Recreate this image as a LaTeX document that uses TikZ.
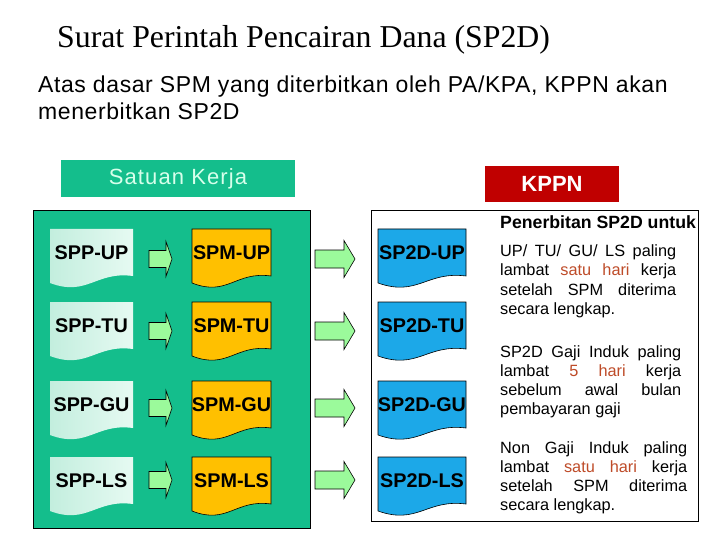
\documentclass[tikz,border=0pt]{standalone}
\usepackage{fontspec}
\setmainfont{Liberation Sans}
\newfontfamily\titlefont{Liberation Serif}
\definecolor{teal1}{RGB}{20,190,140}
\definecolor{satktext}{RGB}{215,255,235}
\definecolor{kppnred}{RGB}{192,0,0}
\definecolor{spmorange}{RGB}{255,192,0}
\definecolor{sp2dblue}{RGB}{28,168,232}
\definecolor{arrowgreen}{RGB}{155,250,155}
\definecolor{harired}{RGB}{190,75,40}
\definecolor{mintA}{RGB}{195,238,222}
\definecolor{mintB}{RGB}{230,250,242}
\newcommand\docnode[6]{%
  \begin{scope}[shift={(#2,#3)}]
    \path[#5] (0,0) -- (#4,0) -- (#4,47) .. controls ({0.55*#4},42) and ({0.45*#4},68) .. (0,54) -- cycle;
    \node[doclabel] (#1) at ({#4/2},24) {#6};
  \end{scope}}
\newcommand\smallarrow[2]{%
  \draw[arrowsty, shift={(#1,#2)}] (0,-8.5) -- (17,-8.5) -- (17,-17.5) -- (23,0) -- (17,17.5) -- (17,8.5) -- (0,8.5) -- cycle;}
\newcommand\bigarrow[2]{%
  \draw[arrowsty, shift={(#1,#2)}] (0,-9) -- (29,-9) -- (29,-18.5) -- (40,0) -- (29,18.5) -- (29,9) -- (0,9) -- cycle;}
\begin{document}
\begin{tikzpicture}[x=1pt,y=-1pt,
  doclabel/.style={inner sep=0, font=\bfseries\fontsize{19.8}{20}\selectfont},
  sppdoc/.style={left color=mintA, right color=mintB},
  spmdoc/.style={fill=spmorange, draw=black, line width=0.6pt},
  sp2ddoc/.style={fill=sp2dblue, draw=black, line width=0.6pt},
  arrowsty/.style={fill=arrowgreen, draw=black, line width=0.6pt},
  plain/.style={inner sep=0, anchor=base west}]
\useasboundingbox (0,0) rectangle (720,540);
\fill[white] (0,0) rectangle (720,540);

\node[plain, font=\titlefont\fontsize{31.8}{32}\selectfont] (title) at (57,48) {Surat Perintah Pencairan Dana (SP2D)};
\node[plain] (subtitle) at (38,93) {\parbox[t]{680pt}{\addfontfeature{LetterSpace=2.6}\fontsize{23}{27}\selectfont Atas dasar SPM yang diterbitkan oleh PA/KPA, KPPN akan\\ menerbitkan SP2D}};

\node[fill=teal1, minimum width=234pt, minimum height=37pt, inner sep=0, text=satktext,
      font=\addfontfeature{LetterSpace=5}\fontsize{22}{22}\selectfont] (satker) at (178,178.5) {Satuan Kerja};
\node[fill=kppnred, minimum width=134pt, minimum height=36pt, inner sep=0, text=white,
      font=\bfseries\fontsize{22}{22}\selectfont] (kppn) at (552,184) {KPPN};

\node[draw=black, line width=1.2pt, fill=teal1, minimum width=277pt, minimum height=318pt, anchor=north west, inner sep=0] (satkerpanel) at (33,210) {};
\node[draw=black, line width=1pt, fill=white, minimum width=327pt, minimum height=311pt, anchor=north west, inner sep=0] (kppnpanel) at (371,210) {};

\docnode{spp1}{50}{229}{83}{sppdoc}{SPP-UP}
\docnode{spp2}{50}{302}{83}{sppdoc}{SPP-TU}
\docnode{spp3}{50}{381}{83}{sppdoc}{SPP-GU}
\docnode{spp4}{50}{457}{83}{sppdoc}{SPP-LS}

\docnode{spm1}{192}{229}{79}{spmdoc}{SPM-UP}
\docnode{spm2}{192}{302}{79}{spmdoc}{SPM-TU}
\docnode{spm3}{192}{381}{79}{spmdoc}{SPM-GU}
\docnode{spm4}{192}{457}{79}{spmdoc}{SPM-LS}

\docnode{sptd1}{378}{229}{88}{sp2ddoc}{SP2D-UP}
\docnode{sptd2}{378}{302}{88}{sp2ddoc}{SP2D-TU}
\docnode{sptd3}{378}{381}{88}{sp2ddoc}{SP2D-GU}
\docnode{sptd4}{378}{457}{88}{sp2ddoc}{SP2D-LS}

\smallarrow{149}{259}
\smallarrow{149}{331}
\smallarrow{149}{408}
\smallarrow{149}{480}
\bigarrow{315}{259}
\bigarrow{315}{331}
\bigarrow{315}{408}
\bigarrow{315}{480}

\node[plain, font=\bfseries\fontsize{17.7}{18}\selectfont] (head) at (500,229) {Penerbitan SP2D untuk};

\node[plain] (para1) at (500,256) {\parbox[t]{176pt}{\fontsize{16.3}{19.6}\selectfont
  \makebox[\linewidth][s]{UP/ TU/ GU/ LS paling}\\
  \makebox[\linewidth][s]{lambat \textcolor{harired}{satu} \textcolor{harired}{hari} kerja}\\
  \makebox[\linewidth][s]{setelah SPM diterima}\\
  secara lengkap.}};
\node[plain] (para2) at (500,357) {\parbox[t]{181pt}{\fontsize{16.3}{19}\selectfont
  \makebox[\linewidth][s]{SP2D Gaji Induk paling}\\
  \makebox[\linewidth][s]{lambat \textcolor{harired}{5} \textcolor{harired}{hari} kerja}\\
  \makebox[\linewidth][s]{sebelum awal bulan}\\
  pembayaran gaji}};
\node[plain] (para3) at (500,453) {\parbox[t]{187pt}{\fontsize{16.3}{19}\selectfont
  \makebox[\linewidth][s]{Non Gaji Induk paling}\\
  \makebox[\linewidth][s]{lambat \textcolor{harired}{satu} \textcolor{harired}{hari} kerja}\\
  \makebox[\linewidth][s]{setelah SPM diterima}\\
  secara lengkap.}};
\end{tikzpicture}
\end{document}
